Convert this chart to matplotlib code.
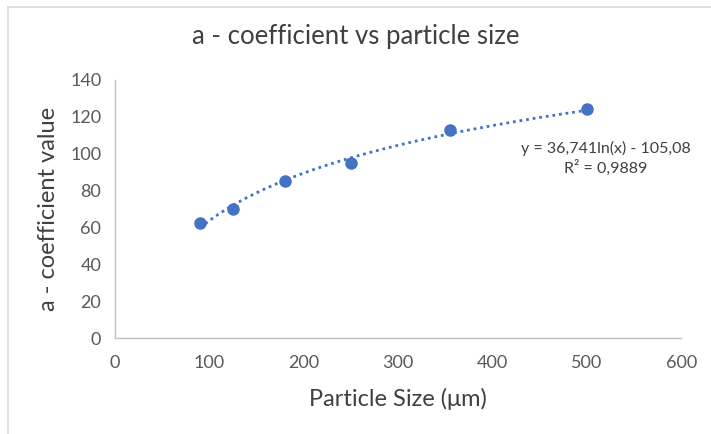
import numpy as np
import matplotlib.pyplot as plt
from matplotlib.lines import Line2D

plt.rcParams['font.family'] = ['Lato', 'DejaVu Sans']

# particle size (um) and measured a - coefficient
particle_size = [90, 125, 180, 250, 355, 500]
a_coeff = [62.5, 70, 85, 95, 113, 124]

x_ticks = [0, 100, 200, 300, 400, 500, 600]
y_ticks = [0, 20, 40, 60, 80, 100, 120, 140]

eq_text = 'y = 36,741ln(x) - 105,08\nR² = 0,9889'

blue = '#4472C4'
grey = '#595959'

# log trendline fitted to the points
k, b = np.polyfit(np.log(particle_size), a_coeff, 1)
xs = np.linspace(min(particle_size), max(particle_size), 200)
ys = k * np.log(xs) + b

fig = plt.figure(figsize=(7.11, 4.34), dpi=100)
ax = fig.add_axes([0.162, 0.221, 0.796, 0.595])

ax.plot(xs, ys, color=blue, lw=2, linestyle=(0, (1, 1.4)), zorder=2)
ax.plot(particle_size, a_coeff, 'o', color=blue, markersize=8, zorder=3)

ax.set_xlim(0, 600)
ax.set_ylim(0, 140)
ax.set_xticks(x_ticks)
ax.set_yticks(y_ticks)
ax.tick_params(length=0, labelsize=13, colors=grey)
ax.tick_params(axis='x', pad=12)
ax.tick_params(axis='y', pad=10)
for s in ['top', 'right']:
    ax.spines[s].set_visible(False)
for s in ['left', 'bottom']:
    ax.spines[s].set_color('#bfbfbf')
    ax.spines[s].set_linewidth(1)

ax.set_xlabel('Particle Size (μm)', fontsize=17, color='#404040', labelpad=12)
ax.set_ylabel('a - coefficient value', fontsize=17, color='#404040', labelpad=8)
fig.suptitle('a - coefficient vs particle size', fontsize=18.5, color='#404040',
             x=0.5, y=0.945)

ax.text(520, 97.5, eq_text, ha='center', va='center', fontsize=11.5,
        color='#404040', linespacing=1.3)

# chart frame
fig.add_artist(Line2D([0.011, 0.011], [0, 0.984], transform=fig.transFigure,
                      color='#d9d9d9', lw=1.2))
fig.add_artist(Line2D([0.011, 1], [0.984, 0.984], transform=fig.transFigure,
                      color='#d9d9d9', lw=1.2))

fig.savefig('out.png', dpi=100)
